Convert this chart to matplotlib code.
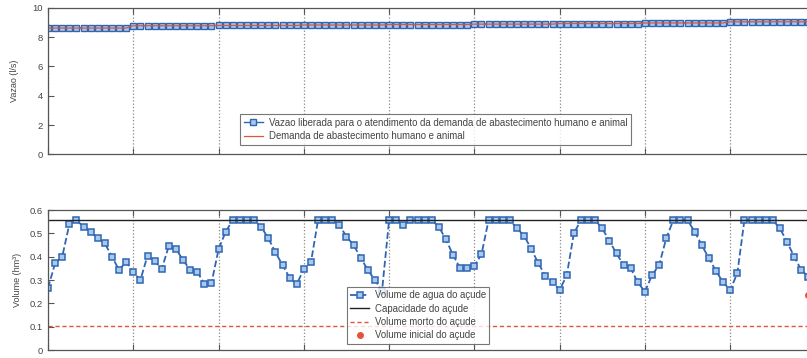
import numpy as np
import matplotlib
matplotlib.use('Agg')
import matplotlib.pyplot as plt

plt.rcParams['font.family'] = ['Liberation Sans', 'DejaVu Sans']

# vazao liberada por ano (l/s), igual a demanda
vazao_anual = [8.62, 8.78, 8.80, 8.83, 8.86, 8.89, 8.93, 8.97, 9.05]

# volume mensal do acude (hm3)
volume = [0.266, 0.372, 0.400, 0.539, 0.557, 0.528, 0.507, 0.479, 0.457, 0.400, 0.343, 0.378,
          0.333, 0.300, 0.404, 0.381, 0.347, 0.446, 0.433, 0.386, 0.343, 0.336, 0.282, 0.286,
          0.432, 0.507, 0.557, 0.557, 0.557, 0.557, 0.528, 0.479, 0.419, 0.364, 0.310, 0.282,
          0.347, 0.376, 0.557, 0.557, 0.557, 0.536, 0.486, 0.450, 0.396, 0.343, 0.300, 0.253,
          0.557, 0.557, 0.536, 0.557, 0.557, 0.557, 0.557, 0.528, 0.474, 0.407, 0.350, 0.350,
          0.361, 0.410, 0.557, 0.557, 0.557, 0.557, 0.521, 0.490, 0.433, 0.372, 0.318, 0.290,
          0.257, 0.321, 0.500, 0.557, 0.557, 0.557, 0.521, 0.467, 0.414, 0.364, 0.350, 0.290,
          0.250, 0.321, 0.364, 0.479, 0.557, 0.557, 0.557, 0.507, 0.450, 0.393, 0.339, 0.290,
          0.257, 0.329, 0.557, 0.557, 0.557, 0.557, 0.557, 0.521, 0.464, 0.400, 0.343, 0.314]

capacidade = 0.557
volume_morto = 0.105
volume_inicial = 0.236
mes_inicial = 107

meses = np.arange(len(volume))
vazao = np.repeat(vazao_anual, 12)
demanda = vazao.copy()

azul = '#2f66b3'
azul_claro = '#a9c9ec'
vermelho = '#e0553a'
cinza = '#444444'

fig = plt.figure(figsize=(8.07, 3.58), dpi=100)
ax1 = fig.add_axes([0.0595, 0.569, 0.951, 0.409])
ax2 = fig.add_axes([0.0595, 0.0223, 0.951, 0.391])

# vazao
ax1.plot(meses, vazao, '-s', color=azul, lw=1.0, ms=4.2, mfc=azul_claro, mec=azul, mew=1.0,
         label='Vazao liberada para o atendimento da demanda de abastecimento humano e animal')
ax1.plot(meses, demanda, '-', color=vermelho, lw=0.9,
         label='Demanda de abastecimento humano e animal')
ax1.set_ylim(0, 10)
ax1.set_yticks([0, 2, 4, 6, 8, 10])
ax1.set_ylabel('Vazao (l/s)', fontsize=6.5, color=cinza, labelpad=10)
leg1 = ax1.legend(loc='upper left', bbox_to_anchor=(0.244, 0.31), fontsize=6.9,
                  frameon=True, fancybox=False, edgecolor='#555555', borderpad=0.4,
                  labelspacing=0.35, handlelength=2.0, handletextpad=0.6, labelcolor=cinza)
leg1.get_frame().set_linewidth(0.8)

# volume do acude
ax2.plot(meses, volume, '--s', color=azul, lw=1.3, ms=4.6, mfc=azul_claro, mec=azul, mew=1.1,
         label='Volume de agua do açude')
ax2.axhline(capacidade, color='#222222', lw=1.0, label='Capacidade do açude')
ax2.axhline(volume_morto, color=vermelho, lw=1.0, ls=(0, (3, 2)), label='Volume morto do açude')
ax2.plot([mes_inicial], [volume_inicial], 'o', color=vermelho, ms=4, label='Volume inicial do açude')
ax2.set_ylim(0, 0.6)
ax2.set_yticks(np.arange(0, 0.61, 0.1))
ax2.set_yticklabels(['0', '0.1', '0.2', '0.3', '0.4', '0.5', '0.6'])
ax2.set_ylabel('Volume (hm³)', fontsize=6.5, color=cinza, labelpad=6)
leg2 = ax2.legend(loc='lower left', bbox_to_anchor=(0.383, 0.01), fontsize=6.9,
                  frameon=True, fancybox=False, edgecolor='#555555', borderpad=0.35,
                  labelspacing=0.35, handlelength=2.0, handletextpad=0.6, labelcolor=cinza)
leg2.get_frame().set_linewidth(0.8)

for ax in (ax1, ax2):
    ax.set_xlim(0, 108)
    ax.set_xticks(np.arange(0, 108, 12))
    ax.set_xticklabels([])
    ax.grid(axis='x', ls=':', color='#888888', lw=0.9)
    ax.tick_params(direction='in', top=True, right=True, length=4, width=0.8,
                   colors='#555555', labelcolor=cinza, labelsize=6.8)
    for s in ax.spines.values():
        s.set_color('#555555')
        s.set_linewidth(0.9)

fig.savefig('out.png', dpi=100, facecolor='white')
